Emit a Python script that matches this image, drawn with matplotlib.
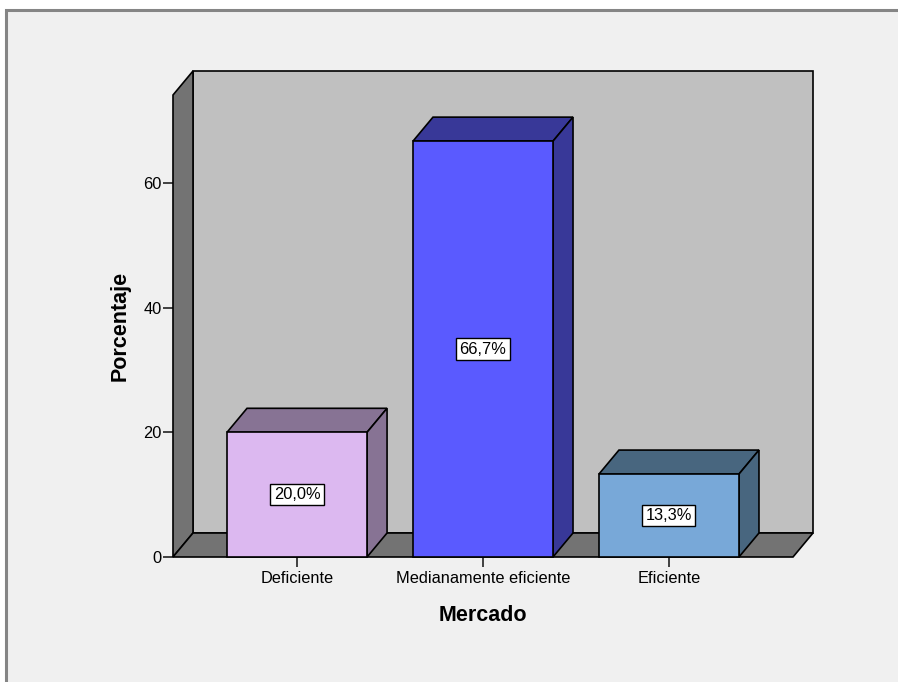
import matplotlib
matplotlib.use("Agg")
import matplotlib.pyplot as plt
from matplotlib.patches import Polygon, Rectangle

# Data
categories = ["Deficiente", "Medianamente eficiente", "Eficiente"]
percentages = [20.0, 66.7, 13.3]
y_ticks = [0, 20, 40, 60]
x_title = "Mercado"
y_title = "Porcentaje"

front_colors = ["#dcb8f0", "#5a5aff", "#78a8d8"]
shade_colors = ["#877394", "#383898", "#48667f"]

plt.rcParams["font.family"] = ["Liberation Sans", "DejaVu Sans"]

W, H = 898, 682
fig = plt.figure(figsize=(W / 100, H / 100), dpi=100)
fig.patch.set_facecolor("white")

# Chart frame
frame = Rectangle((6 / W, -0.05), 1.2, 1 - 10 / H + 0.05, transform=fig.transFigure,
                  facecolor="#f0f0f0", edgecolor="#858585", linewidth=2.2, zorder=-10)
fig.patches.append(frame)

# Front plane of the 3D plot area
left_px, right_px, top_px, bottom_px = 173, 793, 95, 557
ax = fig.add_axes([left_px / W, 1 - bottom_px / H,
                   (right_px - left_px) / W, (bottom_px - top_px) / H])
ax.set_facecolor("none")
ax.set_zorder(1)

xmin, xmax = -0.667, 2.667
ymin, ymax = 0, 74.1
ax.set_xlim(xmin, xmax)
ax.set_ylim(ymin, ymax)

# Depth offset (in data units) from pixel offsets
depth_px_x, depth_px_y = 20, 24
dx = depth_px_x * (xmax - xmin) / (right_px - left_px)
dy = depth_px_y * (ymax - ymin) / (bottom_px - top_px)

edge = dict(edgecolor="black", linewidth=1.2, clip_on=False, joinstyle="miter")

# Back wall, left wall and floor
ax.add_patch(Polygon([(xmin + dx, dy), (xmax + dx, dy), (xmax + dx, ymax + dy),
                      (xmin + dx, ymax + dy)], facecolor="#c0c0c0", zorder=1, **edge))
ax.add_patch(Polygon([(xmin, 0), (xmin, ymax), (xmin + dx, ymax + dy), (xmin + dx, dy)],
                     facecolor="#737373", zorder=2, **edge))
ax.add_patch(Polygon([(xmin, 0), (xmax, 0), (xmax + dx, dy), (xmin + dx, dy)],
                     facecolor="#737373", zorder=2, **edge))

# Bars
bar_w = 0.753
for i, (v, fc, sc) in enumerate(zip(percentages, front_colors, shade_colors)):
    x0, x1 = i - bar_w / 2, i + bar_w / 2
    z = 3 + i
    ax.add_patch(Polygon([(x0, v), (x1, v), (x1 + dx, v + dy), (x0 + dx, v + dy)],
                         facecolor=sc, zorder=z, **edge))
    ax.add_patch(Polygon([(x1, 0), (x1 + dx, dy), (x1 + dx, v + dy), (x1, v)],
                         facecolor=sc, zorder=z, **edge))
    ax.add_patch(Polygon([(x0, 0), (x1, 0), (x1, v), (x0, v)],
                         facecolor=fc, zorder=z, **edge))
    label = f"{v:.1f}".replace(".", ",") + "%"
    ax.text(i, v / 2, label, ha="center", va="center", fontsize=11.8, zorder=10,
            bbox=dict(boxstyle="square,pad=0.2", facecolor="white",
                      edgecolor="black", linewidth=1.0))

# Axes styling
for s in ax.spines.values():
    s.set_visible(False)
ax.set_yticks(y_ticks)
ax.set_yticklabels([str(t) for t in y_ticks])
ax.set_xticks(range(len(categories)))
ax.set_xticklabels(categories)
ax.tick_params(axis="y", direction="out", length=7, width=1.2, pad=1,
               labelsize=11.8, color="#222222")
ax.tick_params(axis="x", direction="out", length=7, width=1.2, pad=3,
               labelsize=11.8, color="#222222")
ax.set_xlabel(x_title, fontsize=15.5, fontweight="bold", labelpad=14)
ax.set_ylabel(y_title, fontsize=15.5, fontweight="bold", labelpad=9)

fig.savefig("out.png", dpi=100)
